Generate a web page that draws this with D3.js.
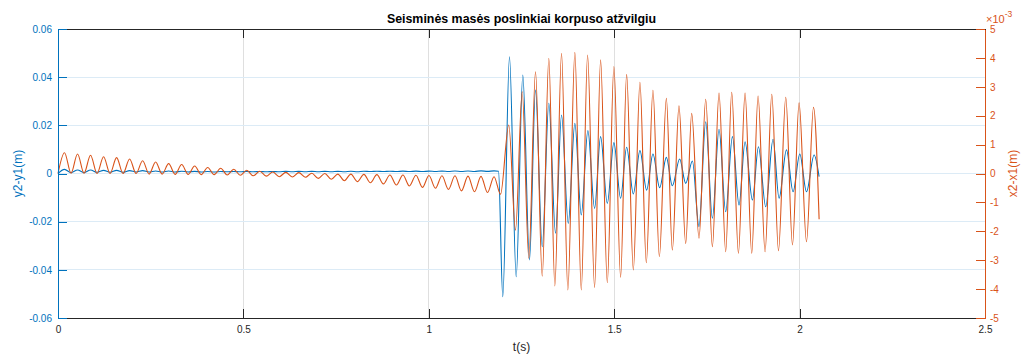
<!DOCTYPE html>
<html>
<head>
<meta charset="utf-8">
<script src="https://cdn.jsdelivr.net/npm/d3@7"></script>
<style>
  html, body { margin: 0; padding: 0; background: #fff; }
  svg { display: block; font-family: "Liberation Sans", Arial, Helvetica, sans-serif; }
</style>
</head>
<body>
<svg id="chart" width="1022" height="354"></svg>
<script>
// Relative displacement of the seismic mass, y2-y1 (m): extreme points of the trace
const timeY = [
  0, 0.0176, 0.0351, 0.0527, 0.0702, 0.0878, 0.1053, 0.1229, 0.1404, 0.158,
  0.1755, 0.1931, 0.2106, 0.2282, 0.2457, 0.2633, 0.2808, 0.2984, 0.3159, 0.3335,
  0.351, 0.3686, 0.3861, 0.4037, 0.4212, 0.4388, 0.4563, 0.4739, 0.4914, 0.509,
  0.5265, 0.5441, 0.5616, 0.5792, 0.5967, 0.6143, 0.6318, 0.6494, 0.6669, 0.6845,
  0.702, 0.7196, 0.7371, 0.7547, 0.7722, 0.7898, 0.8073, 0.8249, 0.8424, 0.86,
  0.8775, 0.8951, 0.9126, 0.9302, 0.9477, 0.9653, 0.9828, 1.0004, 1.0179, 1.0355,
  1.053, 1.0706, 1.0881, 1.1057, 1.1232, 1.1408, 1.1583, 1.1759, 1.188,
  1.1995, 1.2176, 1.2357, 1.2535, 1.2716, 1.2878, 1.3059, 1.3237, 1.3418, 1.358,
  1.3761, 1.3939, 1.4112, 1.429, 1.4471, 1.4633, 1.4814, 1.4992, 1.5173, 1.5335,
  1.5516, 1.5694, 1.5875, 1.6045, 1.6226, 1.6407, 1.6568, 1.6766, 1.6928, 1.7109,
  1.7287, 1.7468, 1.7648, 1.7827, 1.8007, 1.8188, 1.8367, 1.8529, 1.8728, 1.889,
  1.9087, 1.9284, 1.9446, 1.9646, 1.9824, 2.0005, 2.0186, 2.0391, 2.0526
];
const relY = [
  0, 0.0017, 0.00035, 0.00145, 0.00035, 0.00145, 0.0005, 0.0013, 0.0005, 0.0013,
  0.0005, 0.0012, 0.0006, 0.0012, 0.0006, 0.00105, 0.0006, 0.00105, 0.0006, 0.00095,
  0.00065, 0.0009, 0.00065, 0.00085, 0.00065, 0.00085, 0.0007, 0.00085, 0.0007, 0.00085,
  0.0007, 0.00085, 0.0007, 0.00085, 0.0007, 0.0009, 0.0007, 0.0009, 0.0007, 0.0009,
  0.00075, 0.0009, 0.00075, 0.0009, 0.00075, 0.00095, 0.00075, 0.00095, 0.0008, 0.00095,
  0.0008, 0.00095, 0.0008, 0.001, 0.0008, 0.001, 0.0008, 0.001, 0.00085, 0.001,
  0.00085, 0.00105, 0.00085, 0.00105, 0.00085, 0.0011, 0.0009, 0.0011, 0.0009,
  -0.0512, 0.0485, -0.0429, 0.0409, -0.0359, 0.0347, -0.0304, 0.0292, -0.0248, 0.0243,
  -0.0207, 0.0208, -0.0172, 0.0178, -0.0145, 0.0153, -0.0124, 0.0128, -0.0103, 0.0109,
  -0.0085, 0.0095, -0.0069, 0.0081, -0.0059, 0.0067, -0.0051, 0.006, -0.0041, 0.0052,
  -0.0221, 0.0215, -0.0186, 0.0184, -0.0159, 0.0153, -0.0131, 0.0132, -0.011, 0.0111,
  -0.0138, 0.0142, -0.0103, 0.0098, -0.0076, 0.0081, -0.0076, 0.0077, -0.0013
];

// Relative displacement x2-x1, in units of 1e-3 m
const timeX = [
  0, 0.0176, 0.0351, 0.0527, 0.0702, 0.0878, 0.1053, 0.1229, 0.1404, 0.158,
  0.1755, 0.1931, 0.2106, 0.2282, 0.2457, 0.2633, 0.2808, 0.2984, 0.3159, 0.3335,
  0.351, 0.3686, 0.3861, 0.4037, 0.4212, 0.4388, 0.4563, 0.4739, 0.4914, 0.509,
  0.5265, 0.5441, 0.5616, 0.5792, 0.5967, 0.6143, 0.6318, 0.6494, 0.6669, 0.6845,
  0.702, 0.7196, 0.7371, 0.7547, 0.7722, 0.7898, 0.8073, 0.8249, 0.8424, 0.86,
  0.8775, 0.8951, 0.9126, 0.9302, 0.9477, 0.9653, 0.9828, 1.0004, 1.0179, 1.0355,
  1.053, 1.0706, 1.0881, 1.1057, 1.1232, 1.1408, 1.1583, 1.1759, 1.1934,
  1.2157, 1.2338, 1.2519, 1.2697, 1.2878, 1.3059, 1.3237, 1.3399, 1.358, 1.375,
  1.3939, 1.4112, 1.4282, 1.4471, 1.4633, 1.4814, 1.4992, 1.5173, 1.5335, 1.5516,
  1.5694, 1.5866, 1.6045, 1.6218, 1.6407, 1.6568, 1.6747, 1.6928, 1.709, 1.7287,
  1.7468, 1.7648, 1.7827, 1.8007, 1.8169, 1.835, 1.8529, 1.8709, 1.888, 1.9069,
  1.925, 1.943, 1.9627, 1.9808, 1.9986, 2.0186, 2.0375, 2.0526
];
const relX = [
  0, 0.72, 0.01, 0.675, 0.01, 0.63, 0, 0.58, 0, 0.55,
  0, 0.5, 0, 0.44, -0.02, 0.4, -0.02, 0.34, -0.03, 0.31,
  -0.03, 0.26, -0.04, 0.21, -0.04, 0.18, -0.05, 0.145, -0.06, 0.11,
  -0.08, 0.076, -0.09, 0.05, -0.11, 0.04, -0.12, 0.03, -0.13, 0.01,
  -0.17, 0, -0.2, -0.02, -0.25, -0.02, -0.28, -0.03, -0.32, -0.04,
  -0.36, -0.05, -0.4, -0.05, -0.43, -0.06, -0.48, -0.07, -0.51, -0.08,
  -0.55, -0.08, -0.6, -0.09, -0.63, -0.1, -0.66, -0.11, -0.72,
  1.68, -1.96, 2.83, -2.93, 3.52, -3.55, 3.99, -3.89, 4.16, -4.03,
  4.19, -4.03, 4.1, -3.94, 3.93, -3.78, 3.7, -3.59, 3.43, -3.34,
  3.16, -3.09, 2.88, -2.88, 2.6, -2.65, 2.34, -2.42, 2.08, -2.24,
  2.57, -2.53, 2.78, -2.71, 2.81, -2.76, 2.78, -2.76, 2.68, -2.71,
  2.74, -2.67, 2.64, -2.47, 2.45, -2.36, 2.29, -1.58
];

const xTicks = [0, 0.5, 1, 1.5, 2, 2.5];
const yLeftTicks = [-0.06, -0.04, -0.02, 0, 0.02, 0.04, 0.06];
const yRightTicks = [-5, -4, -3, -2, -1, 0, 1, 2, 3, 4, 5];

const chartTitle = "Seisminės masės poslinkiai korpuso atžvilgiu";
const xLabel = "t(s)";
const yLeftLabel = "y2-y1(m)";
const yRightLabel = "x2-x1(m)";

const BLUE = "#0072BD";
const ORANGE = "#D95319";
const AXIS = "#262626";

const plot = { left: 58, right: 985, top: 29, bottom: 318 };
const tickLen = 9.3;

const svg = d3.select("#chart");

const x = d3.scaleLinear().domain([0, 2.5]).range([plot.left, plot.right]);
const yL = d3.scaleLinear().domain([-0.06, 0.06]).range([plot.bottom, plot.top]);
const yR = d3.scaleLinear().domain([-5, 5]).range([plot.bottom, plot.top]);

// grid
const grid = svg.append("g");
grid.selectAll("line.v").data(xTicks.filter(d => d > 0 && d < 2.5)).join("line")
  .attr("x1", d => x(d)).attr("x2", d => x(d))
  .attr("y1", plot.top).attr("y2", plot.bottom)
  .attr("stroke", "#dfdfdf").attr("stroke-width", 1).attr("shape-rendering", "crispEdges");
grid.selectAll("line.h").data(yLeftTicks.filter(d => d > -0.06 && d < 0.06)).join("line")
  .attr("x1", plot.left).attr("x2", plot.right)
  .attr("y1", d => yL(d)).attr("y2", d => yL(d))
  .attr("stroke", "#dcebf6").attr("stroke-width", 1).attr("shape-rendering", "crispEdges");

// traces
const lineY = d3.line().x((d, i) => x(timeY[i])).y(d => yL(d)).curve(d3.curveMonotoneX);
const lineX = d3.line().x((d, i) => x(timeX[i])).y(d => yR(d)).curve(d3.curveMonotoneX);

svg.append("path").attr("d", lineY(relY))
  .attr("fill", "none").attr("stroke", BLUE).attr("stroke-width", 1.1).attr("stroke-linejoin", "round");
svg.append("path").attr("d", lineX(relX))
  .attr("fill", "none").attr("stroke", ORANGE).attr("stroke-width", 1.1).attr("stroke-linejoin", "round");

const fmtNum = d => (d === 0 ? "0" : String(+d.toFixed(2)));

function styleAxis(g, color) {
  g.selectAll(".domain").attr("stroke", color).attr("shape-rendering", "crispEdges");
  g.selectAll(".tick line").attr("stroke", color).attr("shape-rendering", "crispEdges");
  g.selectAll(".tick text").attr("fill", color).attr("font-size", 10)
    .attr("font-family", "Liberation Sans, Arial, sans-serif");
}

// bottom and top axes
const gx = svg.append("g").attr("transform", `translate(0,${plot.bottom})`)
  .call(d3.axisBottom(x).tickValues(xTicks).tickFormat(fmtNum)
    .tickSizeInner(-tickLen).tickSizeOuter(0).tickPadding(8));
styleAxis(gx, AXIS);
const gxTop = svg.append("g").attr("transform", `translate(0,${plot.top})`)
  .call(d3.axisTop(x).tickValues(xTicks).tickFormat("")
    .tickSizeInner(-tickLen).tickSizeOuter(0));
styleAxis(gxTop, AXIS);

// left axis
const gyL = svg.append("g").attr("transform", `translate(${plot.left},0)`)
  .call(d3.axisLeft(yL).tickValues(yLeftTicks).tickFormat(fmtNum)
    .tickSizeInner(-tickLen).tickSizeOuter(0).tickPadding(6));
styleAxis(gyL, BLUE);

// right axis
const gyR = svg.append("g").attr("transform", `translate(${plot.right},0)`)
  .call(d3.axisRight(yR).tickValues(yRightTicks).tickFormat(d => String(d))
    .tickSizeInner(-tickLen).tickSizeOuter(0).tickPadding(5));
styleAxis(gyR, ORANGE);

// exponent marker for the right axis
const expo = svg.append("text").attr("x", 986).attr("y", 22.5)
  .attr("fill", ORANGE).attr("font-size", 11);
expo.append("tspan").text("×10");
expo.append("tspan").attr("font-size", 8.5).attr("dy", -6).text("-3");

// title and axis labels
svg.append("text").attr("x", (plot.left + plot.right) / 2).attr("y", 23)
  .attr("text-anchor", "middle").attr("font-weight", "bold").attr("font-size", 12.4)
  .attr("fill", "#000").text(chartTitle);
svg.append("text").attr("x", (plot.left + plot.right) / 2).attr("y", 351)
  .attr("text-anchor", "middle").attr("font-size", 12).attr("fill", AXIS).text(xLabel);
svg.append("text").attr("transform", `translate(22,${(plot.top + plot.bottom) / 2}) rotate(-90)`)
  .attr("text-anchor", "middle").attr("font-size", 12).attr("fill", BLUE).text(yLeftLabel);
svg.append("text").attr("transform", `translate(1016.5,${(plot.top + plot.bottom) / 2}) rotate(-90)`)
  .attr("text-anchor", "middle").attr("font-size", 12).attr("fill", ORANGE).text(yRightLabel);
</script>
</body>
</html>
